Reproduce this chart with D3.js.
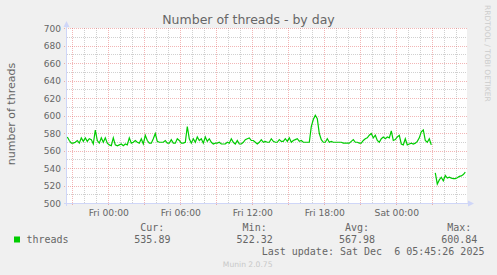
<!DOCTYPE html>
<html>
<head>
<meta charset="utf-8">
<script src="https://cdn.jsdelivr.net/npm/d3@7"></script>
<style>
  html, body { margin: 0; padding: 0; background: #f0f0f0; }
  svg { display: block; }
  text { fill: #666666; }
</style>
</head>
<body>
<svg id="chart" width="497" height="275"></svg>
<script>
// Data (10 minute samples)
var startTime = "2025-12-04T20:35:00Z";
var stepMinutes = 10;
var threads = [
    576, 572, 569, 569, 570, 572, 569, 575, 571, 575,
    571, 574, 573, 568, 584, 572, 569, 575, 570, 575,
    569, 567, 566, 575, 567, 566, 567, 568, 566, 568,
    567, 575, 569, 570, 572, 570, 569, 574, 568, 578,
    572, 569, 569, 574, 580, 571, 570, 570,
    570, 572, 569, 569, 573, 569, 569, 574, 572, 569,
    569, 570, 588, 574, 569, 574, 570, 576, 572, 574,
    569, 576, 571, 574, 570, 568, 569, 569, 570, 568,
    568, 568, 570, 569, 574, 570, 568, 572, 568, 568,
    570, 573, 574, 575, 572, 572, 570, 568,
    570, 573, 570, 571, 570, 570, 574, 571, 570, 570,
    573, 571, 571, 574, 571, 575, 570, 572, 573, 574,
    571, 572, 570, 570, 570, 570, 588, 596, 600.84, 597,
    580, 573, 570, 570, 574, 570, 571, 570, 570, 570,
    570, 570, 569, 569, 569, 569, 571, 573, 570, 570,
    569, 569, 572, 574, 575, 578, 580, 575, 578, 572,
    570, 574, 576, 574, 576, 575, 583, 572, 573, 576,
    578, 568, 567, 574, 567, 568, 569, 568, 569, 571,
    575, 582, 584, 572, 570, 574, 567,
    null,
    535, 522.32, 527, 530, 526, 532, 529, 530, 529, 528.5,
    528.5, 529.5, 531, 531.5, 533, 535.89
];
var yTicks = [500, 520, 540, 560, 580, 600, 620, 640, 660, 680, 700];
var statLabels = ["Cur:", "Min:", "Avg:", "Max:"];
var statValues = [535.89, 522.32, 567.98, 600.84];
var seriesName = "threads";
var lastUpdate = "Last update: Sat Dec  6 05:45:26 2025";

(function() {
    var svg = d3.select("#chart");
    var parse = d3.utcParse("%Y-%m-%dT%H:%M:%SZ");
    var t0 = parse(startTime);
    var points = threads.map(function(v, i) {
        return { t: new Date(t0.getTime() + i * stepMinutes * 60000), v: v };
    });

    var plotLeft = 67, plotTop = 28, plotW = 400, plotH = 175;
    var xScale = d3.scaleUtc()
        .domain([parse("2025-12-04T20:31:00Z"), parse("2025-12-06T05:51:00Z")])
        .range([plotLeft - 0.5, plotLeft + plotW - 0.5]);
    var yScale = d3.scaleLinear().domain([500, 700]).range([plotTop + plotH + 0.5, plotTop + 0.5]);
    function crisp(p) { return Math.round(p - 0.5) + 0.5; }

    // canvas
    svg.append("rect").attr("x", plotLeft).attr("y", plotTop).attr("width", plotW).attr("height", plotH)
        .attr("fill", "#ffffff");

    var gridMinor = "rgba(143,143,143,0.42)";
    var gridMajor = "rgba(224,80,80,0.42)";
    var grid = svg.append("g").attr("fill", "none").attr("stroke-width", 1).attr("stroke-dasharray", "1,1");
    var minorY = d3.range(500, 701, 10).filter(function(v) { return v % 20 !== 0; });
    grid.selectAll(".ymin").data(minorY).enter().append("line")
        .attr("x1", plotLeft).attr("x2", plotLeft + plotW)
        .attr("y1", function(d) { return crisp(yScale(d)); })
        .attr("y2", function(d) { return crisp(yScale(d)); })
        .attr("stroke", gridMinor);
    var minorX = xScale.ticks(d3.utcHour.every(1)).filter(function(d) { return d.getUTCHours() % 3 !== 0; });
    grid.selectAll(".xmin").data(minorX).enter().append("line")
        .attr("x1", function(d) { return crisp(xScale(d)); })
        .attr("x2", function(d) { return crisp(xScale(d)); })
        .attr("y1", plotTop).attr("y2", plotTop + plotH)
        .attr("stroke", gridMinor);
    grid.selectAll(".ymaj").data(yTicks.slice(1)).enter().append("line")
        .attr("x1", plotLeft - 3).attr("x2", plotLeft + plotW + 1)
        .attr("y1", function(d) { return crisp(yScale(d)); })
        .attr("y2", function(d) { return crisp(yScale(d)); })
        .attr("stroke", gridMajor);
    var majorX = xScale.ticks(d3.utcHour.every(3));
    grid.selectAll(".xmaj").data(majorX).enter().append("line")
        .attr("x1", function(d) { return crisp(xScale(d)); })
        .attr("x2", function(d) { return crisp(xScale(d)); })
        .attr("y1", plotTop).attr("y2", plotTop + plotH + 3)
        .attr("stroke", gridMajor);

    // series
    var line = d3.line()
        .defined(function(d) { return d.v !== null; })
        .x(function(d) { return xScale(d.t); })
        .y(function(d) { return yScale(d.v); });
    svg.append("path").datum(points)
        .attr("d", line)
        .attr("fill", "none")
        .attr("stroke", "#00cc00")
        .attr("stroke-width", 1.2);

    // axes
    var axisColor = "#cfd6f8";
    svg.append("line").attr("x1", plotLeft - 0.5).attr("x2", plotLeft - 0.5)
        .attr("y1", plotTop + plotH + 3).attr("y2", plotTop - 4)
        .attr("stroke", axisColor);
    svg.append("line").attr("x1", plotLeft - 3).attr("x2", plotLeft + plotW + 2)
        .attr("y1", plotTop + plotH + 0.5).attr("y2", plotTop + plotH + 0.5)
        .attr("stroke", axisColor);
    svg.append("path").attr("d", "M63.5,27L69.5,27L66.5,21Z").attr("fill", axisColor);
    svg.append("path").attr("d", "M468,200.5L468,206.5L474,203.5Z").attr("fill", axisColor);

    // labels
    var font = "DejaVu Sans";
    svg.selectAll(".ylab").data(yTicks).enter().append("text")
        .attr("x", 61).attr("y", function(d) { return yScale(d) + 3.3; })
        .attr("text-anchor", "end")
        .style("font", "9px '" + font + "'")
        .text(function(d) { return d; });
    var fmt = d3.utcFormat("%a %H:%M");
    svg.selectAll(".xlab").data(xScale.ticks(d3.utcHour.every(6))).enter().append("text")
        .attr("x", function(d) { return xScale(d) + 0.5; }).attr("y", 216)
        .attr("text-anchor", "middle")
        .style("font", "9.2px '" + font + "'")
        .text(function(d) { return fmt(d); });

    svg.append("text").attr("x", 248.5).attr("y", 23.5).attr("text-anchor", "middle")
        .style("font", "12.5px '" + font + "'")
        .text("Number of threads - by day");
    svg.append("text").attr("transform", "translate(15,114) rotate(-90)").attr("text-anchor", "middle")
        .style("font", "11px '" + font + "'")
        .text("number of threads");
    svg.append("text").attr("transform", "translate(485.3,5) rotate(90)")
        .style("font", "7.5px '" + font + "'").style("fill", "#cccccc")
        .text("RRDTOOL / TOBI OETIKER");

    // legend
    var mono = "10px 'DejaVu Sans Mono'";
    svg.append("rect").attr("x", 14).attr("y", 236.5).attr("width", 6).attr("height", 6).attr("fill", "#00cc00");
    svg.append("text").attr("x", 26.5).attr("y", 242.8).style("font", mono).text(seriesName);
    statLabels.forEach(function(lab, i) {
        var x0 = 134.3 + i * 102.3;
        svg.append("text").attr("x", x0 + 6).attr("y", 230.5).style("font", mono).text(lab);
        svg.append("text").attr("x", x0).attr("y", 242.8).style("font", mono).text(d3.format(".2f")(statValues[i]));
    });
    svg.append("text").attr("x", 261.7).attr("y", 255.2).style("font", mono).style("white-space", "pre")
        .text(lastUpdate);
    svg.append("text").attr("x", 247.7).attr("y", 267).attr("text-anchor", "middle")
        .style("font", "7.6px '" + font + "'").style("fill", "#c8c8c8")
        .text("Munin 2.0.75");
})();
</script>
</body>
</html>
